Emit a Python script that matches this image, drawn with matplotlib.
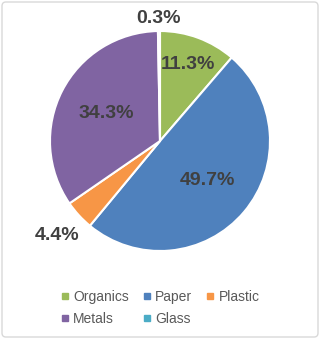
import numpy as np
import matplotlib.pyplot as plt
from matplotlib.lines import Line2D
from matplotlib.patches import FancyBboxPatch

categories = ["Organics", "Paper", "Plastic", "Metals", "Glass"]
shares = [11.3, 49.7, 4.4, 34.3, 0.3]
colors = ["#9BBB59", "#4F81BD", "#F79646", "#8064A2", "#4BACC6"]
# label distance from centre, in radii
label_dist = [0.74, 0.56, 1.27, 0.55, 1.11]

plt.rcParams["font.family"] = ["Liberation Sans", "DejaVu Sans"]

W, H = 320, 339
fig = plt.figure(figsize=(W / 100, H / 100), dpi=100)

# outer frame
frame = FancyBboxPatch((2 / W, 2 / H), 1 - 4 / W, 1 - 4 / H,
                       boxstyle="round,pad=0,rounding_size=0.012",
                       transform=fig.transFigure, fc="none", ec="#D9D9D9",
                       lw=1.0, zorder=5)
fig.patches.append(frame)

ax = fig.add_axes([50 / W, 88 / H, 220 / W, 220 / H])
wedges, _ = ax.pie(shares, colors=colors, startangle=90, counterclock=False,
                   radius=1.0,
                   wedgeprops=dict(edgecolor="white", linewidth=1.5))
ax.set_xlim(-1, 1)
ax.set_ylim(-1, 1)
ax.set_aspect("equal")

for w, val, d in zip(wedges, shares, label_dist):
    ang = np.deg2rad((w.theta1 + w.theta2) / 2)
    ax.text(d * np.cos(ang), d * np.sin(ang), f"{val:.1f}%", ha="center",
            va="center", fontsize=14, fontweight="bold", color="#404040",
            clip_on=False)

# legend, filled row-wise like the original
handles = [Line2D([], [], marker="s", ls="", color=c, markersize=5) for c in colors]
order = [0, 3, 1, 4, 2]
fig.legend([handles[i] for i in order], [categories[i] for i in order],
           ncol=3, loc="center", bbox_to_anchor=(0.5, 1 - 308 / H),
           frameon=False, fontsize=10, labelcolor="#595959",
           handlelength=0.6, handletextpad=0.3, columnspacing=1.0,
           labelspacing=0.55, borderaxespad=0)

fig.savefig("out.png", dpi=100)
